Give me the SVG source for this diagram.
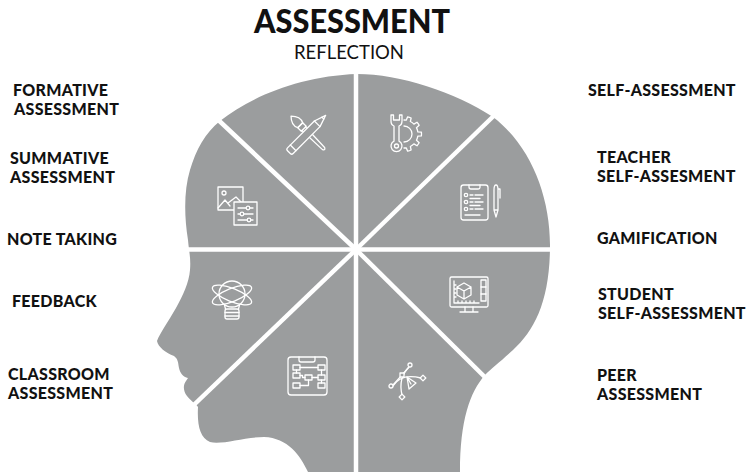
<svg xmlns="http://www.w3.org/2000/svg" width="746" height="472" viewBox="0 0 746 472">
  <style>
    .lbl { font-family: Lato, "Open Sans", sans-serif; font-weight: 900; font-size: 16px; letter-spacing: 0.3px; fill: #111; }
    .title { font-family: Lato, "Open Sans", sans-serif; font-weight: 900; font-size: 32px; fill: #111; }
    .sub { font-family: Lato, "Open Sans", sans-serif; font-weight: 400; font-size: 19px; fill: #111; }
    .ico { fill: none; stroke: #fff; stroke-width: 1.3; stroke-linejoin: round; stroke-linecap: round; }
    .ico .solid { fill: #9b9d9e; }
    .div { stroke: #fff; stroke-width: 4.5; }
  </style>

  <rect width="746" height="472" fill="#fff"/>

  <!-- title block -->
  <g id="title">
    <text class="title" x="352" y="33" text-anchor="middle" textLength="196" lengthAdjust="spacingAndGlyphs">ASSESSMENT</text>
    <text class="sub" x="349" y="58.5" text-anchor="middle" textLength="110" lengthAdjust="spacingAndGlyphs">REFLECTION</text>
  </g>

  <!-- head silhouette -->
  <g id="head">
    <path fill="#9b9d9e" d="M357,74
      C400,74 455,92 493,117
      C530,145 550,195 550,245
      C550,300 535,330 513,350
      C500,362 492,368 485,375
      C470,392 460,420 460,472
      L308,472
      C300,455 288,438 264,437
      C245,437 222,445 210,442
      C200,438 197,425 198,407
      C196,404 190,400 187,396
      C183,391 183,385 186,381
      L188,378
      C183,377 180,373 179,368
      C178,362 178,359 174,356
      C166,353 158,347 157,341
      C160,333 168,322 176,308
      C183,295 189,283 190,270
      C191,258 189,252 188,240
      C184,215 184,190 190,170
      C196,150 205,133 220,121
      C250,97 300,76 357,74 Z"/>
  </g>

  <!-- dividers between the eight sectors -->
  <g id="dividers" class="div">
    <line x1="356" y1="60" x2="356" y2="472"/>
    <line x1="150" y1="249.5" x2="560" y2="249.5"/>
    <line x1="356" y1="249.5" x2="196" y2="99"/>
    <line x1="356" y1="249.5" x2="506" y2="104"/>
    <line x1="356" y1="249.5" x2="176" y2="422"/>
    <line x1="356" y1="249.5" x2="506" y2="398"/>
  </g>

  <!-- sector icons -->
  <g id="icon-tools" class="ico" transform="translate(308,133)">
    <g transform="rotate(45)">
      <path d="M-11,-3.5 C-15,-5.5 -20,-4 -24,0 C-20,4 -15,5.5 -11,3.5 Z"/>
      <rect x="-11" y="-3.5" width="5" height="7"/>
      <path d="M-6,-2.5 L22,-1.5 Q25,0 22,1.5 L-6,2.5"/>
    </g>
    <g transform="rotate(-45)">
      <path class="solid" d="M-25,-4 L13,-4 L25,0 L13,4 L-25,4 Q-27,4 -27,2 L-27,-2 Q-27,-4 -25,-4 Z"/>
      <path d="M-21,-4 L-21,4 M13,-4 L13,4 M21,-1.3 L21,1.3"/>
    </g>
  </g>

  <g id="icon-media" class="ico" transform="translate(237,205)">
    <rect x="-19" y="-18" width="25" height="23"/>
    <circle cx="-13" cy="-12" r="2"/>
    <path d="M-19,3 L-12,-5 L-7,1 M-9,-2 L-1,-8 L6,-1"/>
    <rect class="solid" x="-3" y="-3" width="23" height="23"/>
    <path d="M1,3 L16,3 M1,9 L16,9 M1,15 L16,15"/>
    <circle class="solid" cx="11" cy="3" r="1.8"/>
    <circle class="solid" cx="5" cy="9" r="1.8"/>
    <circle class="solid" cx="12" cy="15" r="1.8"/>
  </g>

  <g id="icon-settings" class="ico" transform="translate(407,133)">
    <g transform="translate(-3,1)">
      <path d="M0,-14 A14,14 0 0 1 2.19,-13.83 L3.64,-17.12 A17.5,17.5 0 0 1 7.12,-15.99 L6.36,-12.47 A14,14 0 0 1 9.90,-9.90 L13.00,-11.71 A17.5,17.5 0 0 1 15.16,-8.75 L12.47,-6.36 A14,14 0 0 1 13.83,-2.19 L17.40,-1.83 A17.5,17.5 0 0 1 17.40,1.83 L13.83,2.19 A14,14 0 0 1 12.47,6.36 L15.16,8.75 A17.5,17.5 0 0 1 13.00,11.71 L9.90,9.90 A14,14 0 0 1 6.36,12.47 L7.12,15.99 A17.5,17.5 0 0 1 3.64,17.12 L2.19,13.83 A14,14 0 0 1 0,14"/>
      <path d="M0,-8 A8,8 0 0 1 0,8"/>
    </g>
    <path class="solid" d="M-13,-7 L-13,8.2 A5.5,5.5 0 1 0 -8,8.2 L-8,-7 Q-5,-8 -5,-12 L-5,-18 L-7.5,-18 L-7.5,-13 L-13.5,-13 L-13.5,-18 L-16,-18 L-16,-12 Q-16,-8 -13,-7 Z"/>
    <circle cx="-10.5" cy="13" r="2"/>
  </g>

  <g id="icon-checklist" class="ico" transform="translate(480,202)">
    <rect x="-19" y="-17" width="27" height="35" rx="2.5"/>
    <path d="M-11,-17 L-11,-15 Q-11,-13 -9,-13 L-2,-13 Q0,-13 0,-15 L0,-17"/>
    <circle cx="-14" cy="-7" r="1.7"/>
    <circle cx="-14" cy="0" r="1.7"/>
    <circle cx="-14" cy="7" r="1.7"/>
    <path d="M-10,-7 L-7,-7 M-5,-7 L3,-7 M-10,-3.5 L0,-3.5 M-10,0 L-7,0 M-5,0 L3,0 M-10,3.5 L0,3.5 M-10,7 L-7,7 M-5,7 L3,7 M-15,13 L0,13"/>
    <path d="M14,-12 L14,8 L16,15 L18,8 L18,-12 Q18,-17 16,-17 Q14,-17 14,-12 Z M14,8 L18,8 M18,-13 L20,-13 L20,-4"/>
  </g>

  <g id="icon-idea" class="ico" transform="translate(232,299)">
    <circle cx="0" cy="-5" r="13"/>
    <path d="M-7.5,6 L-6.5,10 M7.5,6 L6.5,10"/>
    <rect x="-7" y="10" width="14" height="10" rx="2"/>
    <path d="M-7,13.5 L7,13.5 M-7,17 L7,17"/>
    <ellipse cx="0" cy="-4" rx="21" ry="6.5" transform="rotate(22 0 -4)"/>
    <ellipse cx="0" cy="-4" rx="21" ry="6.5" transform="rotate(-22 0 -4)"/>
  </g>

  <g id="icon-flowchart" class="ico" transform="translate(307,376)">
    <rect x="-19" y="-19" width="39" height="38" rx="3"/>
    <path d="M-8,-19 L-8,-16 Q-8,-14 -6,-14 L6,-14 Q8,-14 8,-16 L8,-19"/>
    <rect x="-14" y="-11" width="7" height="5"/>
    <rect x="11" y="-11" width="7" height="5"/>
    <rect x="-14" y="-3" width="7" height="5"/>
    <rect x="11" y="-1" width="7" height="5"/>
    <rect x="-14" y="7" width="7" height="5"/>
    <rect x="11" y="7" width="7" height="5"/>
    <rect x="-2" y="-1" width="7" height="5"/>
    <path d="M-7,-8.5 L11,-8.5 M-10.5,-6 L-10.5,-3 M-7,-0.5 L-4.5,-0.5 L-4.5,1.5 L-2,1.5 M5,1.5 L11,1.5 M14.5,-6 L14.5,-1 M1.5,4 L1.5,9.5 L-7,9.5 M14.5,4 L14.5,7"/>
  </g>

  <g id="icon-monitor" class="ico" transform="translate(469,295)">
    <rect x="-19" y="-18" width="38" height="30" rx="1.5"/>
    <path d="M-15,-14 L-15,8 L10,8 M-15,-10 L-13,-10 M-15,-6 L-13,-6 M-15,-2 L-13,-2 M-15,2 L-13,2 M-11,8 L-11,6 M-7,8 L-7,6 M-3,8 L-3,6 M1,8 L1,6 M5,8 L5,6"/>
    <path d="M-4,12 L-4,17 M4,12 L4,17 M-9,17 L9,17"/>
    <path d="M-5,-12 L2,-8 L2,0 L-5,4 L-12,0 L-12,-8 Z M-12,-8 L-5,-4 L2,-8 M-5,-4 L-5,4"/>
    <rect x="12" y="-15" width="5" height="21"/>
    <path d="M12,-8 L17,-8 M12,-1 L17,-1"/>
  </g>

  <g id="icon-bezier" class="ico" transform="translate(407,382)">
    <path d="M2,-15 Q-9,-4 -5,13 M-14,4 Q-6,-9 14,-4"/>
    <path d="M-5,-7 L2,-15 M-5,-7 L-14,3"/>
    <rect class="solid" x="-7" y="-9" width="4" height="4"/>
    <circle class="solid" cx="3" cy="-17" r="2"/>
    <rect class="solid" x="14" y="-6" width="4" height="4" transform="rotate(45 16 -4)"/>
    <circle class="solid" cx="-16" cy="4" r="2"/>
    <rect class="solid" x="-7" y="13" width="4" height="4" transform="rotate(45 -5 15)"/>
    <path class="solid" d="M0,-5 L9,1 L2,7 Z M0,-5 L4,2"/>
  </g>

  <!-- labels, left column -->
  <g id="label-formative"><text class="lbl"><tspan x="13" y="96">FORMATIVE</tspan><tspan x="14" y="115.2">ASSESSMENT</tspan></text></g>
  <g id="label-summative"><text class="lbl"><tspan x="10" y="163.5">SUMMATIVE</tspan><tspan x="10" y="182.7">ASSESSMENT</tspan></text></g>
  <g id="label-notes"><text class="lbl" x="7" y="245">NOTE TAKING</text></g>
  <g id="label-feedback"><text class="lbl" x="12" y="306.5">FEEDBACK</text></g>
  <g id="label-classroom"><text class="lbl"><tspan x="8" y="379.5">CLASSROOM</tspan><tspan x="8" y="398.7">ASSESSMENT</tspan></text></g>

  <!-- labels, right column -->
  <g id="label-self"><text class="lbl" x="588" y="96">SELF-ASSESSMENT</text></g>
  <g id="label-teacher"><text class="lbl"><tspan x="597" y="163">TEACHER</tspan><tspan x="597" y="182.2">SELF-ASSESMENT</tspan></text></g>
  <g id="label-gamification"><text class="lbl" x="597" y="244">GAMIFICATION</text></g>
  <g id="label-student"><text class="lbl"><tspan x="598" y="300">STUDENT</tspan><tspan x="598" y="319.2">SELF-ASSESSMENT</tspan></text></g>
  <g id="label-peer"><text class="lbl"><tspan x="597" y="380.5">PEER</tspan><tspan x="597" y="399.7">ASSESSMENT</tspan></text></g>
</svg>
